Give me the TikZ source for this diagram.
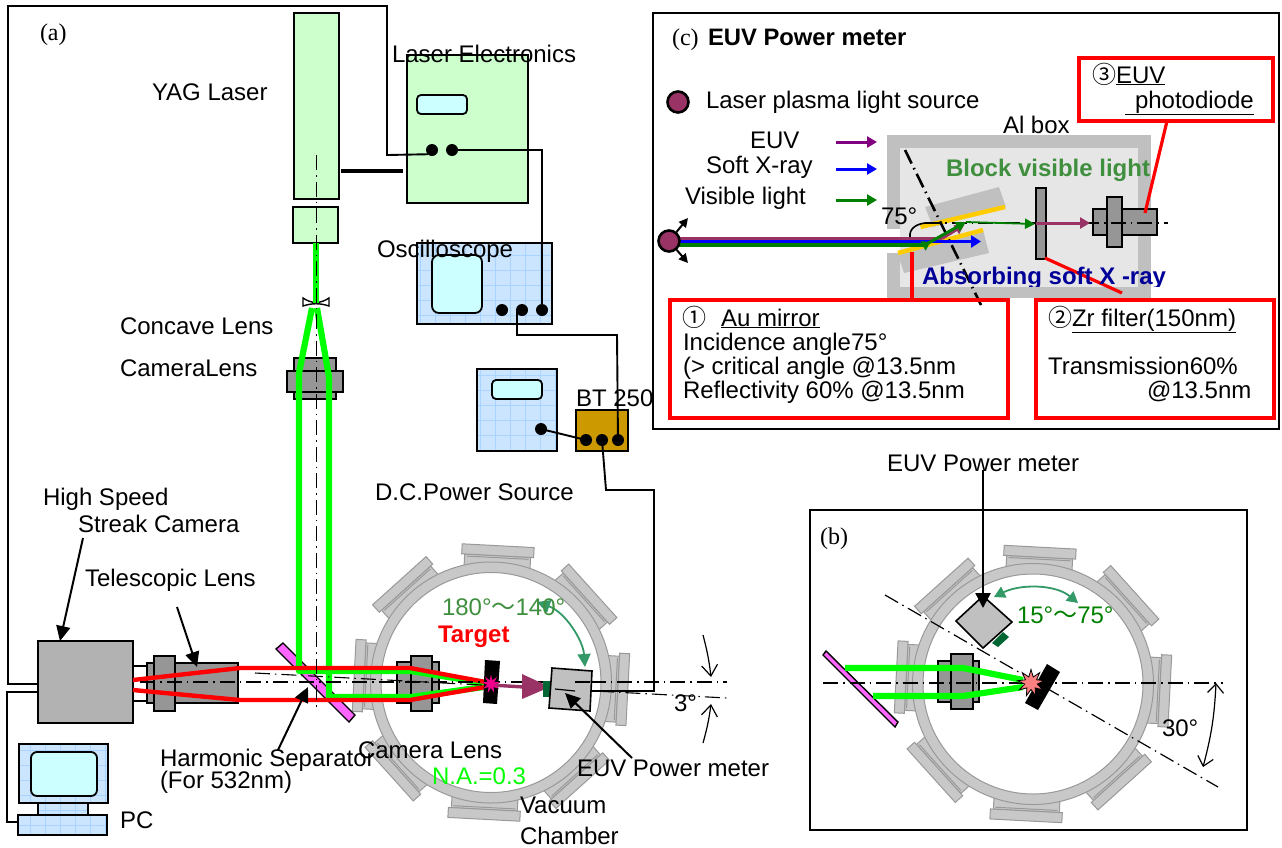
\documentclass[tikz,border=0pt]{standalone}
\usepackage{fontspec}
\setmainfont{Liberation Sans}
\newfontfamily\serifl{Liberation Serif}
\newfontfamily\cjk{Noto Sans CJK JP}
\usetikzlibrary{arrows.meta,shapes.geometric,calc}
\definecolor{lgreen}{HTML}{CCFFCC}
\definecolor{lcyan}{HTML}{CCFFFF}
\definecolor{lblue}{HTML}{CCE5FF}
\definecolor{gridc}{HTML}{A8D4FF}
\definecolor{mgray}{HTML}{969696}
\definecolor{cgray}{HTML}{C0C0C0}
\definecolor{bgray}{HTML}{B2B2B2}
\definecolor{pgray}{HTML}{C8C8C8}
\definecolor{pline}{HTML}{999999}
\definecolor{inner}{HTML}{E6E6E6}
\definecolor{beam}{HTML}{00FF00}
\definecolor{plum}{HTML}{993366}
\definecolor{teal2}{HTML}{339966}
\definecolor{dgreen}{HTML}{006633}
\definecolor{olive2}{HTML}{3F8F3F}
\definecolor{gold2}{HTML}{FFCC00}
\definecolor{sep}{HTML}{FF66FF}
\definecolor{brass}{HTML}{CC9900}
\definecolor{leg}{HTML}{800080}
\definecolor{navy2}{HTML}{000099}
\definecolor{grn2}{HTML}{008000}
\definecolor{salmon2}{HTML}{FF8080}
\tikzset{
 boxst/.style={draw=black,line width=1.8pt,inner sep=0pt,outer sep=0pt,rectangle},
 scr/.style={boxst,fill=lcyan,rounded corners=4pt},
 dotn/.style={circle,fill=black,minimum size=12pt,inner sep=0pt,outer sep=0pt},
 wire/.style={draw=black,line width=1.9pt},
 txt/.style={inner sep=0pt,outer sep=0pt,anchor=base west,font=\fontsize{24}{26}\selectfont},
 axisd/.style={draw=black,line width=1.5pt,dash pattern=on 15pt off 5pt on 1.5pt off 5pt},
 lead/.style={draw=black,line width=2pt,-{Triangle[length=15pt,width=14pt]}},
 barb/.style={draw=black,line width=1.2pt,{Straight Barb[length=9pt,width=16pt]}-{Straight Barb[length=9pt,width=16pt]}},
 barbe/.style={draw=black,line width=1.2pt,-{Straight Barb[length=11pt,width=16pt]}},
 gbeam/.style={draw=beam,line width=6.2pt},
 rbeam/.style={draw=red,line width=4.4pt},
 redbox/.style={draw=red,line width=3.4pt,inner sep=0pt,outer sep=0pt,rectangle},
 legarr/.style={line width=3pt,-{Triangle[length=10pt,width=11pt]}},
 port/.style={draw=pline,fill=pgray,line width=1pt},
}
\newcommand{\bx}[6][]{\pgfmathsetmacro\bw{#5-#3}\pgfmathsetmacro\bh{#6-#4}\node[boxst,minimum width=\bw pt,minimum height=\bh pt,#1] (#2) at ({(#3+#5)/2},{(#4+#6)/2}) {};}
\newcommand{\lb}[5][]{\node[txt,yshift=-8pt,#1] (#2) at (#3,#4) {#5};}
\newcommand{\gridbox}[1]{\begin{scope}\clip (#1.north west) rectangle (#1.south east);\draw[gridc,line width=.6pt,xstep=15pt,ystep=15pt] (#1.south west) grid (#1.north east);\end{scope}\draw[black,line width=1.8pt] (#1.north west) rectangle (#1.south east);}
\newcommand{\chamber}[2]{\begin{scope}[shift={(#1,#2)},rotate=-3]
 \foreach \a in {0,45,...,315}{\begin{scope}[rotate=\a]
  \draw[port] (-33,-127) rectangle (33,-114);
  \draw[port] (-31,-125) -- (31,-125);
  \draw[port] (-36,-137) rectangle (36,-127);
 \end{scope}}
 \fill[pgray,even odd rule] (0,0) circle (120.5pt) (0,0) circle (110pt);
 \draw[pline,line width=1pt] (0,0) circle (120.5pt) (0,0) circle (110pt);
\end{scope}}
\begin{document}
\begin{tikzpicture}[x=1pt,y=-1pt]
\fill[white] (0,0) rectangle (1282,847);
\useasboundingbox (0,0) rectangle (1282,847);
% ---------- chambers
\chamber{491}{682.5}
\chamber{1033}{684}
% ---------- panel (a) instruments
\bx[fill=lgreen]{yag}{294}{13}{339}{199}
\bx[fill=lgreen]{yagb}{293}{207}{338}{243}
\bx[fill=lgreen]{lase}{407}{55}{528}{203}
\bx[scr]{lasescr}{417}{95}{467}{114}
\node[dotn] (le1) at (432,150) {};
\node[dotn] (le2) at (452,150) {};
\bx[fill=lblue]{osc}{417}{243}{552}{324}
\gridbox{osc}
\bx[scr,rounded corners=7pt]{oscscr}{432}{255}{482}{313}
\node[dotn] (os1) at (502,310) {};
\node[dotn] (os2) at (522,310) {};
\node[dotn] (os3) at (542,310) {};
\bx[fill=lblue]{dcs}{477}{369}{557}{451}
\gridbox{dcs}
\bx[scr]{dcsscr}{492}{380}{542}{399}
\node[dotn] (dc1) at (541,429) {};
\bx[fill=brass]{bt}{576}{410}{628}{451}
\node[dotn] (bt1) at (586,440) {};
\node[dotn] (bt2) at (602,440) {};
\node[dotn] (bt3) at (618,440) {};
\bx[fill=bgray]{cam}{38}{641}{133}{723}
\bx[fill=white]{tela}{133}{666}{147}{701}
\bx[fill=mgray]{telb}{147}{663}{154}{703}
\bx[fill=mgray]{telc}{175}{663}{238}{703}
\bx[fill=mgray]{teld}{154}{656}{175}{711}
\bx[fill=lblue]{mon}{19}{744}{108}{803}
\gridbox{mon}
\bx[scr,rounded corners=6pt]{monscr}{31}{752}{97}{796}
\bx[fill=lblue]{stand}{38}{803}{88}{815}
\gridbox{stand}
\bx[fill=lblue]{kbd}{18}{815}{107}{835}
\gridbox{kbd}
% wires
\coordinate (w1) at (387,6);
\coordinate (w2) at (8,6);
\coordinate (w3) at (387,155);
\coordinate (w4) at (8,684);
\coordinate (w5) at (38,684);
\draw[wire] (le1.south west) -- (w3) -- (w1) -- (w2) -- (w4) -- (w5);
\draw[wire] (le2.center) -- (le2.center -| os3.center) -- (os3.center);
\draw[black,line width=3.2pt] (341,171) -- (403,171);
\coordinate (w6a) at (517,310);
\coordinate (w6) at (517,335);
\coordinate (w7) at (617,335);
\draw[wire] (os2.center) -- (w6a) -- (w6) -- (w7) -- (bt3.center);
\draw[wire] (dc1.center) -- (bt1.center);
\coordinate (w8) at (606,490);
\coordinate (w9) at (654,490);
\coordinate (w10) at (654,691);
\coordinate (w11) at (590,691);
\draw[wire] (bt2.center) -- (w8) -- (w9) -- (w10) -- (w11);
\coordinate (w12) at (38,692);
\coordinate (w13) at (7,692);
\coordinate (w14) at (7,822);
\coordinate (w15) at (18,822);
\draw[wire] (w12) -- (w13) -- (w14) -- (w15);
% optics (a)
\draw[boxst,fill=mgray] (294,358) rectangle (336,399);
\draw[boxst,fill=mgray] (287,371) rectangle (343,392);
\draw[black,fill=white,line width=1.4pt] (303,298) .. controls (312,304) and (320,304) .. (329,298) -- (329,306) .. controls (320,303) and (312,303) .. (303,306) -- cycle;
\draw[gbeam] (316,243) -- (316,303);
\draw[boxst,fill=sep,line width=1.4pt] (283,643) -- (355,715) -- (349,722) -- (276,649) -- cycle;
\draw[boxst,fill=mgray] (397,662) rectangle (439,703);
\draw[boxst,fill=mgray] (411,656) rectangle (432,711);
\draw[gbeam,line join=round] (312,308) -- (299,373) -- (299,671) -- (411,671) -- (491,684);
\draw[gbeam,line join=round] (317,308) -- (329,377) -- (329,697) -- (411,697) -- (491,686);
\draw[rbeam,line join=round] (133,680) -- (240,668) -- (410,668) -- (491,683);
\draw[rbeam,line join=round] (133,690) -- (240,700) -- (410,700) -- (491,686);
\draw[axisd] (316.5,155) -- (316.5,710);
\draw[axisd] (140,682) -- (727,682);
\draw[axisd,line width=1.1pt] (255,673) -- (727,698);
\fill[black] (485,660) -- (500,661) -- (497,704) -- (483,703) -- cycle;
\draw[plum,line width=3.4pt] (491,685) -- (524,687);
\fill[plum] (522,674) -- (522,699) -- (550,687) -- cycle;
\node[star,star points=9,star point ratio=2.4,fill=magenta,minimum size=19pt,inner sep=0pt] (plasa) at (491,684) {};
\fill[dgreen] (543,681) -- (551,681) -- (551,697) -- (543,697) -- cycle;
\draw[black,fill=cgray,line width=1.6pt] (552,668) -- (592,671) -- (590,711) -- (549,708) -- cycle;
\draw[black,line width=1.2pt] (555,689) -- (575,691);
\draw[black,line width=1.2pt] (590,682) -- (575,682);
\draw[wire] (w11) -- (w10);
% leaders (a)
\coordinate (l1a) at (83,538); \coordinate (l1b) at (60,641);
\draw[lead] (l1a) -- (l1b);
\coordinate (l2a) at (177,607); \coordinate (l2b) at (197,667);
\draw[lead] (l2a) -- (l2b);
\coordinate (l3a) at (278,750); \coordinate (l3b) at (308,687);
\draw[lead] (l3a) -- (l3b);
\coordinate (l4a) at (632,758); \coordinate (l4b) at (565,693);
\draw[lead] (l4a) -- (l4b);
\coordinate (t1a) at (703,635); \coordinate (t1b) at (711,677);
\draw[barbe] (t1a) to[bend left=4] (t1b);
\coordinate (t2a) at (703,743); \coordinate (t2b) at (711,704);
\draw[barbe] (t2a) to[bend right=4] (t2b);
\coordinate (g1a) at (537,602); \coordinate (g1b) at (585,667);
\draw[teal2,line width=1.8pt,{Triangle[length=13pt,width=13pt]}-{Triangle[length=13pt,width=13pt]}] (g1a) .. controls (565,612) and (583,640) .. (g1b);
% ---------- panel (b)
\draw[black,line width=1.6pt] (810,510) rectangle (1247,830);
\draw[axisd] (823,683) -- (1223,683);
\draw[axisd,line width=1.2pt] (885,595) -- (1218,787);
\draw[boxst,fill=sep,line width=1.4pt] (826,651) -- (898,722) -- (895,727) -- (823,655) -- cycle;
\draw[boxst,fill=mgray] (938,661) rectangle (979,702);
\draw[boxst,fill=mgray] (951,654) rectangle (973,709);
\draw[gbeam,line join=round] (845,668) -- (963,668) -- (1023,680);
\draw[gbeam,line join=round] (873,696) -- (963,696) -- (1023,687);
\draw[axisd] (823,683) -- (985,683);
\fill[black] (1047,664) -- (1060,672) -- (1038,710) -- (1025,703) -- cycle;
\node[star,star points=9,star point ratio=2.1,draw=black,line width=.8pt,fill=salmon2,minimum size=27pt,inner sep=0pt] (plasb) at (1031,683) {};
\fill[dgreen] (992,643) -- (1003,632) -- (1009,637) -- (998,647) -- cycle;
\draw[black,fill=cgray,line width=1.6pt] (983,596) -- (1012,622) -- (983,648) -- (956,621) -- cycle;
\coordinate (b1a) at (983,470); \coordinate (b1b) at (983,608);
\draw[draw=black,line width=2.4pt,-{Triangle[length=15pt,width=15pt]}] (b1a) -- (b1b);
\coordinate (b2a) at (994,597); \coordinate (b2b) at (1078,603);
\draw[teal2,line width=1.8pt,{Triangle[length=11pt,width=12pt]}-{Triangle[length=11pt,width=12pt]}] (b2a) .. controls (1020,584) and (1055,584) .. (b2b);
\coordinate (b3a) at (1216,683); \coordinate (b3b) at (1203,767);
\draw[barb] (b3a) to[bend left=6] (b3b);
% ---------- panel (c)
\draw[black,line width=1.8pt] (653,13) rectangle (1279,429);
\fill[cgray] (887,135) rectangle (1151,298);
\fill[inner] (900,148) rectangle (1138,287);
\fill[white] (887,229) rectangle (900,253);
\fill[cgray] (925,207) -- (999,187) -- (1006,207) -- (933,227) -- cycle;
\fill[cgray] (898,255) -- (983,230) -- (989,253) -- (904,273) -- cycle;
\draw[gold2,line width=4.5pt] (920.5,227) -- (1005,207);
\draw[gold2,line width=4.5pt] (898,253) -- (983,230);
\bx[fill=mgray,line width=2.6pt]{filt}{1036}{188}{1046}{259}
\bx[fill=mgray,line width=2.6pt]{pdb}{1093}{209}{1157}{235}
\bx[fill=mgray,line width=2.6pt]{pdf}{1107}{197}{1122}{247}
\draw[axisd,line width=2.6pt] (905,150) -- (981,305);
\draw[axisd,line width=2.6pt] (925,223) -- (1168,223);
\coordinate (s0) at (679,238.5);
\draw[plum,line width=3.8pt] (s0) -- (942,238.5);
\draw[plum,line width=3pt,-{Triangle[length=9pt,width=10pt]}] (942,238.5) -- (964,225);
\draw[plum,line width=3pt,-{Triangle[length=10pt,width=11pt]}] (1036,223) -- (1090,223);
\draw[grn2,line width=3.8pt] (679,245) -- (925,245);
\draw[blue,line width=3.8pt,-{Triangle[length=10pt,width=12pt]}] (679,241.5) -- (981,241.5);
\draw[grn2,line width=3pt,{Triangle[length=9pt,width=10pt,reversed]}-{Triangle[length=10pt,width=10pt]}] (923,246) -- (966,222);
\draw[grn2,line width=1.8pt,-{Triangle[length=10pt,width=10pt]}] (966,222) -- (1035,224);
\node[circle,draw=black,line width=2.6pt,fill=plum,minimum size=21pt,inner sep=0pt] (srcc) at (669,241) {};
\node[circle,draw=black,line width=2.6pt,fill=plum,minimum size=21pt,inner sep=0pt] (legc) at (678,102) {};
\coordinate (s1) at (688,218); \coordinate (s2) at (688,263);
\draw[black,line width=2pt,-{Triangle[length=9pt,width=9pt]}] (srcc) -- (s1);
\draw[black,line width=2pt,-{Triangle[length=9pt,width=9pt]}] (srcc) -- (s2);
\coordinate (a1a) at (836,142); \coordinate (a1b) at (877,142);
\draw[legarr,leg] (a1a) -- (a1b);
\coordinate (a2a) at (836,169); \coordinate (a2b) at (877,169);
\draw[legarr,blue] (a2a) -- (a2b);
\coordinate (a3a) at (836,200); \coordinate (a3b) at (877,200);
\draw[legarr,grn2] (a3a) -- (a3b);
\draw[black,line width=1.6pt] (910,237) .. controls (909,228) and (917,224) .. (925,223);
\bx[redbox,draw=red]{rb1}{670}{300}{1008}{418}
\bx[redbox,draw=red]{rb2}{1036}{300}{1274}{418}
\bx[redbox,draw=red,fill=white]{rb3}{1079}{58}{1273}{121}
\coordinate (c0) at (1167,121); \coordinate (c1) at (1145,213);
\draw[red,line width=3.2pt] (c0) -- (c1);
\coordinate (c2) at (912,252); \coordinate (c2b) at (912,300);
\draw[red,line width=3.2pt] (c2) -- (c2b);
\coordinate (c3) at (1045,258); \coordinate (c4) at (1122,293);
\draw[red,line width=3.2pt] (c3) -- (c4);
% ---------- texts (a)
\lb[font=\serifl\fontsize{24}{26}\selectfont]{ta}{40}{32}{(a)}
\lb{t1}{152}{92}{YAG Laser}
\lb{t2}{392}{54}{Laser Electronics}
\lb{t3}{377}{249}{Oscilloscope}
\lb{t4}{120}{326}{Concave Lens}
\lb{t5}{120}{368}{CameraLens}
\lb{t6}{576}{398}{BT 250}
\lb{t7}{375}{492}{D.C.Power Source}
\lb{t8}{43}{497}{High Speed}
\lb{t9}{78}{524}{Streak Camera}
\lb{t10}{85}{578}{Telescopic Lens}
\lb{t11}{160}{758}{Harmonic Separator}
\lb{t12}{160}{780}{(For 532nm)}
\lb{t13}{358}{750}{Camera Lens}
\lb[text=beam]{t14}{432}{776}{N.A.=0.3}
\lb{t15}{577}{768}{EUV Power meter}
\lb{t16}{520}{805}{Vacuum}
\lb{t17}{520}{836}{Chamber}
\lb{t18}{120}{820}{PC}
\lb[text=olive2]{t19}{442}{607}{180°{\cjk ～}140°}
\lb[text=red,font=\bfseries\fontsize{24}{26}\selectfont]{t20}{438}{634}{Target}
\lb{t21}{674}{703}{3°}
% ---------- texts (b)
\lb[font=\serifl\fontsize{24}{26}\selectfont]{tb}{820}{536}{(b)}
\lb{t22}{887}{463}{EUV Power meter}
\lb[text=grn2]{t23}{1017}{615}{15°{\cjk ～}75°}
\lb{t24}{1162}{728}{30°}
% ---------- texts (c)
\lb[font=\serifl\fontsize{24}{26}\selectfont]{tc}{672}{37}{(c)}
\lb[font=\bfseries\fontsize{23.8}{26}\selectfont]{t25}{708}{37}{EUV Power meter}
\lb{t26}{706}{100}{Laser plasma light source}
\lb{t27}{750}{140}{EUV}
\lb{t28}{706}{165}{Soft X-ray}
\lb{t29}{685}{196}{Visible light}
\lb{t30}{1003}{125}{Al box}
\lb[text=olive2,font=\bfseries\fontsize{24}{26}\selectfont]{t31}{946}{168}{Block visible light}
\begin{scope}
\clip (887,250) rectangle (1170,286);
\lb[text=navy2,font=\bfseries\fontsize{24}{26}\selectfont]{t32}{922}{276}{Absorbing soft X -ray}
\end{scope}
\lb{t33}{881}{216}{75°}
\lb{t34}{682}{318}{{\cjk ①}\hspace{15pt}\underline{Au mirror}}
\lb{t35}{683}{342}{Incidence angle75°}
\lb{t36}{683}{366}{(> critical angle @13.5nm}
\lb{t37}{683}{390}{Reflectivity 60\% @13.5nm}
\lb{t38}{1048}{318}{{\cjk ②}\underline{Zr filter(150nm)}}
\lb{t39}{1048}{366}{Transmission60\%}
\lb{t40}{1147}{390}{@13.5nm}
\lb{t41}{1092}{75}{{\cjk ③}\underline{EUV}}
\lb{t42}{1125}{100}{\underline{\hspace{10pt}photodiode}}
\end{tikzpicture}
\end{document}
